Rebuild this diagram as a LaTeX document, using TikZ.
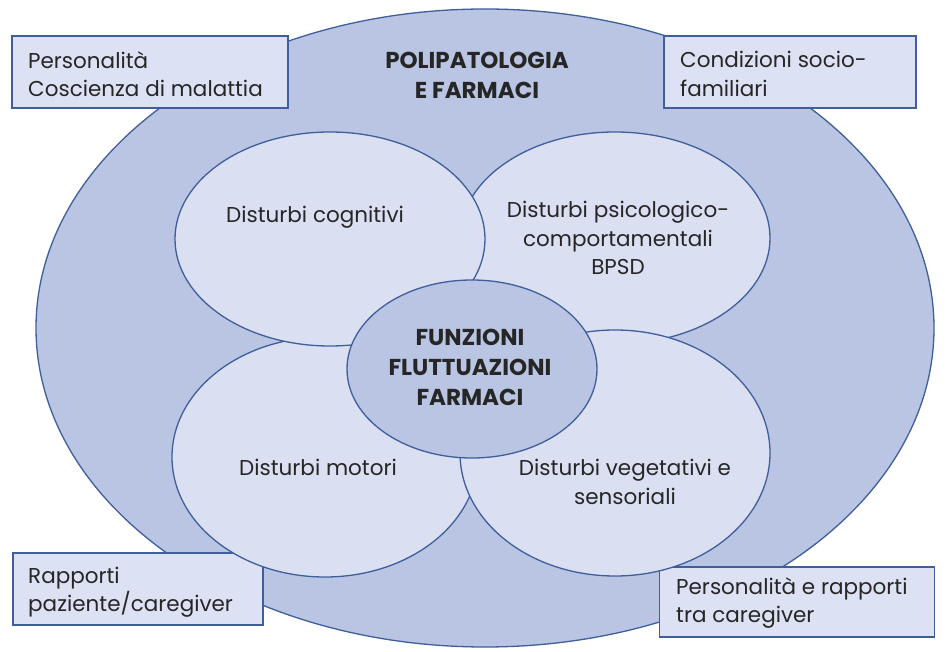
\documentclass[tikz,border=0pt]{standalone}
\usepackage{fontspec}
\setmainfont{Poppins}
\usetikzlibrary{shapes.geometric}
\definecolor{edgeblue}{HTML}{3F5E9A}
\definecolor{outerfill}{HTML}{B9C5E3}
\definecolor{innerfill}{HTML}{DAE0F2}
\definecolor{boxfill}{HTML}{DCE2F3}
\definecolor{txt}{HTML}{262626}
\tikzset{
  oval/.style={ellipse, draw=edgeblue, line width=1.3pt, inner sep=0pt},
  infobox/.style={draw=edgeblue, line width=1.3pt, fill=boxfill, inner sep=0pt},
  lbl/.style={text=txt, font=\fontsize{21.5}{28.5}\selectfont, align=center, inner sep=0pt},
  boxlbl/.style={text=txt, font=\fontsize{21.5}{28.5}\selectfont, align=left, anchor=west, inner sep=0pt},
  boldlbl/.style={text=txt, font=\bfseries\fontsize{23}{30}\selectfont, align=center, inner sep=0pt}
}
\begin{document}
\begin{tikzpicture}[x=1pt,y=-1pt]
\useasboundingbox (0,0) rectangle (946,652);
% outer ellipse
\node[oval, fill=outerfill, minimum width=898pt, minimum height=638pt] (outer) at (485,328) {};
% boxes
\node[infobox, minimum width=276pt, minimum height=72pt] (b1) at (150,72) {};
\node[infobox, minimum width=252pt, minimum height=72pt] (b2) at (790,72) {};
\node[infobox, minimum width=250pt, minimum height=72pt] (b3) at (138,589) {};
\node[infobox, minimum width=275pt, minimum height=70pt] (b4) at (797,602) {};
\node[boxlbl] at (28,74) {Personalità\\Coscienza di malattia};
\node[boxlbl] at (680,74) {Condizioni socio-\\familiari};
\node[boxlbl] at (28,592) {Rapporti\\paziente/caregiver};
\node[boxlbl] at (676,603) {Personalità e rapporti\\tra caregiver};
% title
\node[boldlbl] (title) at (477,75) {POLIPATOLOGIA\\E FARMACI};
% inner ellipses
\node[oval, fill=innerfill, minimum width=310pt, minimum height=212pt] (psi) at (615,238) {};
\node[oval, fill=innerfill, minimum width=306pt, minimum height=240pt] (mot) at (325,457) {};
\node[oval, fill=innerfill, minimum width=310pt, minimum height=214pt] (cog) at (330,239) {};
\node[oval, fill=innerfill, minimum width=310pt, minimum height=246pt] (veg) at (615,453) {};
\node[oval, fill=outerfill, minimum width=250pt, minimum height=178pt] (ctr) at (472,369) {};
% labels
\node[lbl] at (315,217) {Disturbi cognitivi};
\node[lbl] at (618,238) {Disturbi psicologico-\\comportamentali\\BPSD};
\node[lbl] at (318,467) {Disturbi motori};
\node[lbl] at (625,482) {Disturbi vegetativi e\\sensoriali};
\node[boldlbl] at (470,367) {FUNZIONI\\FLUTTUAZIONI\\FARMACI};
\end{tikzpicture}
\end{document}
